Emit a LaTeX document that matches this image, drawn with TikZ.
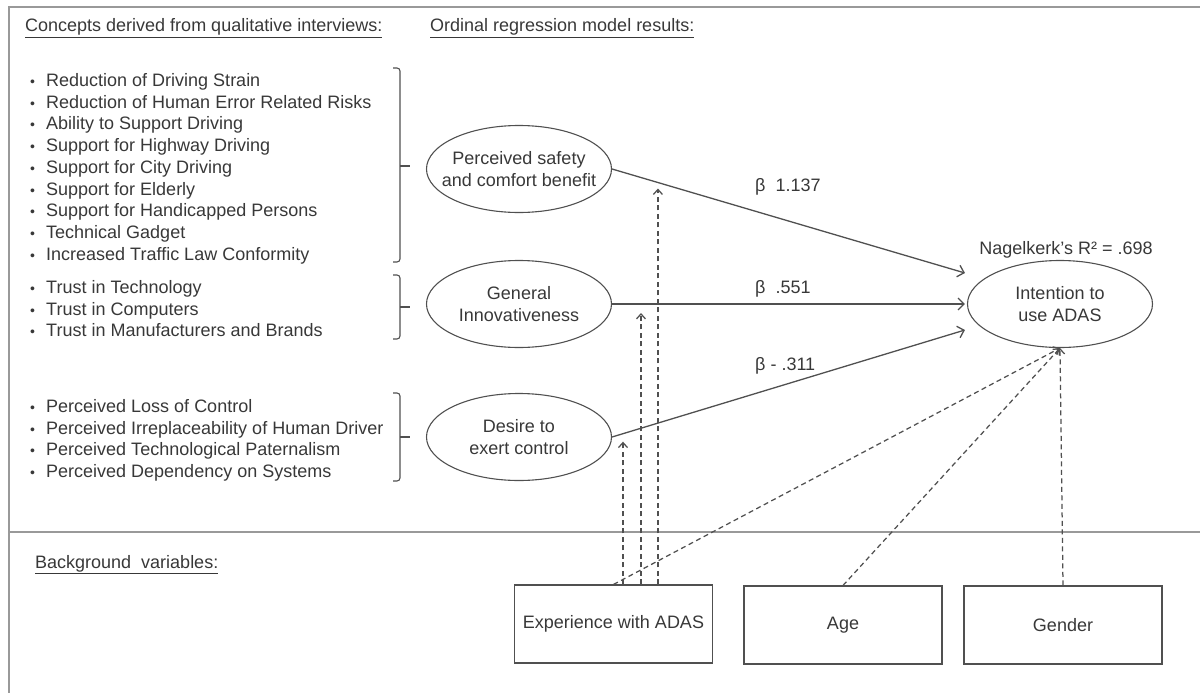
\documentclass[tikz,border=0pt]{standalone}
\usepackage{fontspec}
\setmainfont{Liberation Sans}
\usepackage{xcolor}
\usetikzlibrary{arrows.meta,positioning,shapes.geometric}
\definecolor{ink}{HTML}{383838}
\definecolor{wire}{HTML}{505050}
\definecolor{frame}{HTML}{999999}
\newcommand{\itm}[1]{\makebox[16pt][l]{\fontsize{14}{14}\selectfont•}#1}

\begin{document}
\begin{tikzpicture}[
  x=1pt, y=-1pt,
  font=\fontsize{18}{22}\selectfont,
  every node/.style={text=ink},
  item/.style={anchor=west, inner sep=0pt, text height=13pt, text depth=4pt},
  head/.style={anchor=base west, inner sep=0pt},
  concept/.style={draw=wire, ellipse, line width=1.1pt, minimum width=185pt, minimum height=87pt, align=center, inner xsep=-12pt, inner ysep=0pt},
  var/.style={draw=wire, line width=1.1pt, minimum width=198pt, minimum height=78pt},
  beta/.style={anchor=west, inner sep=0pt},
  arr/.style={draw=wire, line width=1.3pt, -{Straight Barb[length=6pt,width=12pt]}},
  mod/.style={draw=wire, line width=1.25pt, dash pattern=on 5pt off 3.5pt, -{Straight Barb[length=5pt,width=9pt]}},
  brace/.style={draw=wire, line width=1.1pt, rounded corners=3pt}
]
\useasboundingbox (0,0) rectangle (1200,693);
\draw[frame, line width=1.5pt] (9,693) -- (9,7) -- (1200,7);
\draw[frame, line width=1.5pt] (9,532) -- (1200,532);

% headings
\node[head] (h1) at (25,32) {\underline{Concepts derived from qualitative interviews:}};
\node[head] (h2) at (430,32) {\underline{Ordinal regression model results:}};
\node[head] (h3) at (35,568) {\underline{Background\ \ variables:}};

% concept lists
\foreach \txt [count=\i] in {Reduction of Driving Strain, Reduction of Human Error Related Risks,
  Ability to Support Driving, Support for Highway Driving, Support for City Driving,
  Support for Elderly, Support for Handicapped Persons, Technical Gadget,
  Increased Traffic Law Conformity}
  \node[item] (s\i) at (30,{82+21.7*(\i-1)}) {\itm{\txt}};
\foreach \txt [count=\i] in {Trust in Technology, Trust in Computers, Trust in Manufacturers and Brands}
  \node[item] (t\i) at (30,{289+21.7*(\i-1)}) {\itm{\txt}};
\foreach \txt [count=\i] in {Perceived Loss of Control, Perceived Irreplaceability of Human Driver,
  Perceived Technological Paternalism, Perceived Dependency on Systems}
  \node[item] (c\i) at (30,{408+21.7*(\i-1)}) {\itm{\txt}};

% brackets
\foreach \ya/\yb/\ym in {68/262/166, 275/339/307, 393/481/437} {
  \draw[brace] (393,\ya) -- (400,\ya) -- (400,\yb) -- (393,\yb);
  \draw[brace] (400,\ym) -- (410,\ym);
}

% model
\node[concept] (e1) at (519,169) {Perceived safety\\and comfort benefit};
\node[concept] (e2) at (519,304) {General\\Innovativeness};
\node[concept] (e3) at (519,437) {Desire to\\exert control};
\node[concept] (e4) at (1060,304) {Intention to\\use ADAS};
\node[above=2pt of e4, xshift=6pt, inner sep=0pt] (r2) {Nagelkerk’s R² = .698};

\draw[arr] (e1.east) -- node[pos=.13, coordinate] (m1) {} ([xshift=-2pt,yshift=31pt]e4.west);
\draw[arr] (e2.east) -- node[pos=.082, coordinate] (m2) {} ([xshift=-2pt]e4.west);
\draw[arr] (e3.east) -- node[pos=.031, coordinate] (m3) {} ([xshift=-2pt,yshift=-26pt]e4.west);

\node[beta] (b1) at (755,187) {β\hspace{10pt}1.137};
\node[beta] (b2) at (755,289) {β\hspace{10pt}.551};
\node[beta] (b3) at (755,366) {β - .311};

% background variables
\node[var] (exp) at (613.5,624) {Experience with ADAS};
\node[var] (age) at (843,625) {Age};
\node[var] (gen) at (1063,625) {Gender};

\draw[mod] (exp.north -| m1) -- ([yshift=-6pt]m1);
\draw[mod] (exp.north -| m2) -- ([yshift=-9pt]m2);
\draw[mod] (exp.north -| m3) -- ([yshift=-8pt]m3);
\draw[mod] (exp.north) -- (e4.south);
\draw[mod] (age.north) -- (e4.south);
\draw[mod] (gen.north) -- (e4.south);
\end{tikzpicture}
\end{document}
